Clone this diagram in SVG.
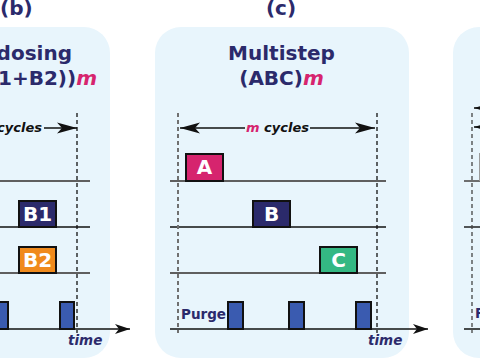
<svg xmlns="http://www.w3.org/2000/svg" width="480" height="360" viewBox="0 0 480 360">
<defs>
<style>
.panel{fill:#e8f5fc}
.lbl{font-family:"DejaVu Sans",sans-serif;font-weight:bold;fill:#2b2a6b}
.ttl{font-family:"DejaVu Sans",sans-serif;font-weight:bold;font-size:20px;fill:#2b2a6b;text-anchor:middle}
.mm{fill:#d6246e;font-style:italic}
.cyc{font-family:"DejaVu Sans",sans-serif;font-weight:bold;font-style:italic;font-size:13px;fill:#111}
.time{font-family:"DejaVu Sans",sans-serif;font-weight:bold;font-style:italic;font-size:13.5px;fill:#2b2a6b}
.purge{font-family:"DejaVu Sans",sans-serif;font-weight:bold;font-size:13.5px;fill:#2b2a6b}
.box{stroke:#111;stroke-width:2}
.btxt{font-family:"DejaVu Sans",sans-serif;font-weight:bold;font-size:20px;fill:#fff;text-anchor:middle}
.pulse{fill:#3a5bb0;stroke:#111;stroke-width:2}
.gl{stroke:#5f5f5f;stroke-width:1.8;fill:none}
.bl{stroke:#111;stroke-width:1.4;fill:none}
.dash{stroke:#111;stroke-width:1.3;stroke-dasharray:4 3;fill:none}
.dashg{stroke:#707070;stroke-width:2;stroke-dasharray:4 3;fill:none}
.arr{stroke:#111;stroke-width:1.5;fill:none}
</style>
<marker id="ah" markerUnits="userSpaceOnUse" markerWidth="22" markerHeight="14" refX="20" refY="6" orient="auto-start-reverse">
<path d="M0,0.5 L20,6 L0,11.5 L5,6 Z" fill="#111"/>
</marker>
<marker id="ht" markerUnits="userSpaceOnUse" markerWidth="18" markerHeight="12" refX="15" refY="5" orient="auto">
<path d="M0,0 L15,5 L0,10 L4,5 Z" fill="#111"/>
</marker>
</defs>

<!-- panel backgrounds -->
<rect class="panel" x="-160" y="27" width="270" height="331" rx="26"/>
<rect class="panel" x="155" y="27" width="254" height="331" rx="26"/>
<rect class="panel" x="453" y="27" width="260" height="331" rx="26"/>

<!-- panel labels -->
<text class="lbl" x="0" y="15" font-size="20">(b)</text>
<text class="lbl" x="281" y="15" font-size="20" text-anchor="middle">(c)</text>

<!-- panel (b) -->
<g id="panel-b">
<text class="ttl" x="72" y="60" text-anchor="end" style="text-anchor:end">Codosing</text>
<text class="ttl" x="97" y="85" style="text-anchor:end">(A(B1+B2))<tspan class="mm">m</tspan></text>
<text class="cyc" x="42" y="132" text-anchor="end"><tspan class="mm">m</tspan> cycles</text>
<text class="time" x="68" y="345">time</text>
</g>

<!-- panel (c) -->
<g id="panel-c">
<text class="ttl" x="281.5" y="60">Multistep</text>
<text class="ttl" x="281.5" y="85">(ABC)<tspan class="mm">m</tspan></text>
<text class="cyc" x="277.5" y="132" text-anchor="middle"><tspan class="mm">m</tspan> cycles</text>
<text class="purge" x="181" y="319">Purge</text>
<text class="time" x="368" y="345">time</text>
</g>

<!-- panel (d) -->
<g id="panel-d">
<text class="purge" x="475" y="318">Purge</text>
</g>

<!-- connectors / axes -->
<g id="connectors">
<!-- panel b lines -->
<line class="gl" x1="-10" y1="181" x2="90" y2="181"/>
<line class="bl" x1="-10" y1="227" x2="90" y2="227"/>
<line class="gl" x1="-10" y1="273" x2="90" y2="273"/>
<line class="arr" x1="-10" y1="329" x2="130" y2="329" marker-end="url(#ht)"/>
<line class="dash" x1="77" y1="113" x2="77" y2="333"/>
<line class="arr" x1="44" y1="128" x2="77" y2="128" marker-end="url(#ah)"/>

<!-- panel c lines -->
<line class="gl" x1="170" y1="181" x2="386" y2="181"/>
<line class="bl" x1="170" y1="227" x2="386" y2="227"/>
<line class="gl" x1="170" y1="273" x2="386" y2="273"/>
<line class="arr" x1="170" y1="329" x2="428" y2="329" marker-end="url(#ht)"/>
<line class="dashg" x1="178" y1="113" x2="178" y2="333"/>
<line class="dash" x1="377" y1="113" x2="377" y2="333"/>
<line class="arr" x1="245" y1="128" x2="180" y2="128" marker-end="url(#ah)"/>
<line class="arr" x1="310" y1="128" x2="375" y2="128" marker-end="url(#ah)"/>

<!-- panel d lines -->
<line class="gl" x1="464" y1="181" x2="490" y2="181"/>
<line class="bl" x1="464" y1="227" x2="490" y2="227"/>
<line class="arr" x1="464" y1="329" x2="490" y2="329"/>
<line class="dash" x1="472" y1="113" x2="472" y2="333" style="stroke:#444"/>
<line class="arr" x1="495" y1="108" x2="474" y2="108" marker-end="url(#ah)"/>
<line class="arr" x1="495" y1="127" x2="474" y2="127" marker-end="url(#ah)"/>
<line x1="479.5" y1="153" x2="479.5" y2="181" stroke="#9a9a9a" stroke-width="1"/>
</g>

<!-- pulses b -->
<g id="b-B1"><rect class="box" x="19" y="201" width="37" height="26" fill="#2b2a6b"/><text class="btxt" x="37.5" y="221">B1</text></g>
<g id="b-B2"><rect class="box" x="19" y="247" width="37" height="26" fill="#f08a1c"/><text class="btxt" x="37.5" y="267">B2</text></g>
<g id="b-purge1"><rect class="pulse" x="-7" y="302" width="15" height="27"/></g>
<g id="b-purge2"><rect class="pulse" x="60" y="302" width="14" height="27"/></g>

<!-- pulses c -->
<g id="c-A"><rect class="box" x="186" y="154" width="37" height="27" fill="#d6246e"/><text class="btxt" x="204.5" y="174">A</text></g>
<g id="c-B"><rect class="box" x="253" y="201" width="37" height="26" fill="#2b2a6b"/><text class="btxt" x="271.5" y="221">B</text></g>
<g id="c-C"><rect class="box" x="320" y="247" width="37" height="26" fill="#34b883"/><text class="btxt" x="338.5" y="267">C</text></g>
<g id="c-purge1"><rect class="pulse" x="228" y="302" width="15" height="27"/></g>
<g id="c-purge2"><rect class="pulse" x="289" y="302" width="15" height="27"/></g>
<g id="c-purge3"><rect class="pulse" x="356" y="302" width="15" height="27"/></g>
</svg>
